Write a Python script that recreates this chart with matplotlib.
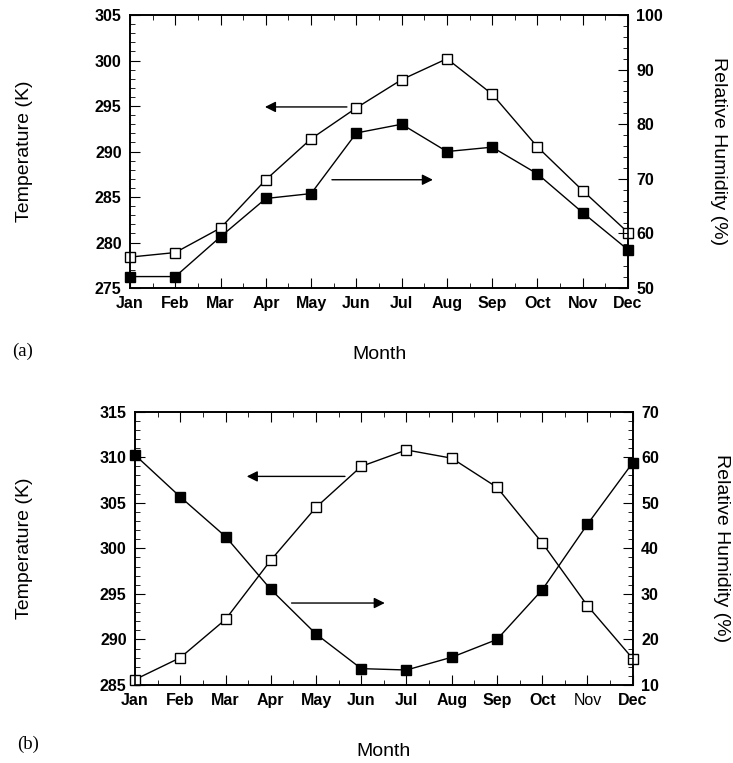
import matplotlib
matplotlib.use("Agg")
import matplotlib.pyplot as plt
from matplotlib.ticker import MultipleLocator

plt.rcParams["font.family"] = ["Liberation Sans", "DejaVu Sans"]

months = ["Jan", "Feb", "Mar", "Apr", "May", "Jun",
          "Jul", "Aug", "Sep", "Oct", "Nov", "Dec"]

# panel (a)
temp_a = [278.4, 278.9, 281.6, 286.9, 291.4, 294.8,
          297.9, 300.2, 296.3, 290.5, 285.7, 281.1]
rh_a = [52.1, 52.1, 59.4, 66.4, 67.3, 78.4,
        80.0, 75.0, 75.8, 70.9, 63.8, 57.0]

# panel (b)
temp_b = [285.6, 288.0, 292.2, 298.7, 304.5, 309.0,
          310.8, 309.9, 306.7, 300.6, 293.7, 287.9]
rh_b = [60.5, 51.3, 42.6, 31.0, 21.2, 13.6,
        13.3, 16.1, 20.0, 30.9, 45.3, 58.8]


def draw_panel(fig, rect, temp, rh, tlim, rhlim, tstep, rhstep,
               left_arrow, right_arrow, tag, tag_pos, label_x):
    ax = fig.add_axes(rect)
    ax2 = ax.twinx()
    x = list(range(len(months)))

    ax.plot(x, temp, color="black", lw=1.0, marker="s", ms=7.5,
            mfc="white", mec="black", mew=1.0, clip_on=False, zorder=3)
    ax2.plot(x, rh, color="black", lw=1.0, marker="s", ms=7.5,
             mfc="black", mec="black", clip_on=False, zorder=3)

    ax.set_xlim(0, 11)
    ax.set_ylim(*tlim)
    ax2.set_ylim(*rhlim)

    ax.set_xticks(x)
    ax.set_xticklabels(months, fontweight="bold", fontsize=11)
    ax.xaxis.set_minor_locator(MultipleLocator(0.5))
    ax.yaxis.set_major_locator(MultipleLocator(tstep))
    ax.yaxis.set_minor_locator(MultipleLocator(1))
    ax2.yaxis.set_major_locator(MultipleLocator(rhstep))
    ax2.yaxis.set_minor_locator(MultipleLocator(2))

    ax.tick_params(axis="both", which="both", direction="in",
                   top=True, right=False, labelsize=11.5, pad=6)
    ax.tick_params(which="major", length=7)
    ax.tick_params(which="minor", length=3.5)
    ax2.tick_params(axis="y", which="both", direction="in",
                    left=False, right=True, labelsize=11.5, pad=6)
    ax2.tick_params(which="major", length=7)
    ax2.tick_params(which="minor", length=3.5)
    for lab in ax.get_yticklabels() + ax2.get_yticklabels():
        lab.set_fontweight("bold")

    for a in (ax, ax2):
        for s in a.spines.values():
            s.set_linewidth(1.2)

    ax.set_ylabel("Temperature (K)", fontsize=14)
    ax.yaxis.set_label_coords(label_x[0], 0.5)
    ax2.set_ylabel("Relative Humidity (%)", fontsize=14, rotation=-90,
                   va="center")
    ax2.yaxis.set_label_coords(label_x[1], 0.5)
    ax.set_xlabel("Month", fontsize=14, labelpad=25)

    arrow = dict(arrowstyle="-|>", color="black", lw=1.0,
                 mutation_scale=16, shrinkA=0, shrinkB=0)
    ax.annotate("", xy=left_arrow[1], xytext=left_arrow[0],
                arrowprops=arrow)
    ax.annotate("", xy=right_arrow[1], xytext=right_arrow[0],
                arrowprops=arrow)

    fig.text(tag_pos[0], tag_pos[1], tag,
             family=["Liberation Serif", "DejaVu Serif"], fontsize=13.5,
             ha="left", va="center")
    return ax, ax2


fig = plt.figure(figsize=(7.33, 7.63), dpi=100)

draw_panel(fig, [0.1774, 0.6225, 0.6794, 0.3578], temp_a, rh_a,
           (275, 305), (50, 100), 5, 10,
           ((4.79, 294.9), (2.98, 294.9)), ((4.46, 286.9), (6.69, 286.9)),
           "(a)", (0.016, 0.539), (-0.195, 1.181))

ax_b, ax2_b = draw_panel(fig, [0.1842, 0.1022, 0.679, 0.3582], temp_b, rh_b,
                         (285, 315), (10, 70), 5, 10,
                         ((4.64, 307.9), (2.47, 307.9)),
                         ((3.46, 294.0), (5.52, 294.0)),
                         "(b)", (0.023, 0.024), (-0.205, 1.179))
# "Nov" is printed lighter in the lower panel
ax_b.get_xticklabels()[10].set_fontweight("normal")

fig.savefig("out.png", dpi=100)
